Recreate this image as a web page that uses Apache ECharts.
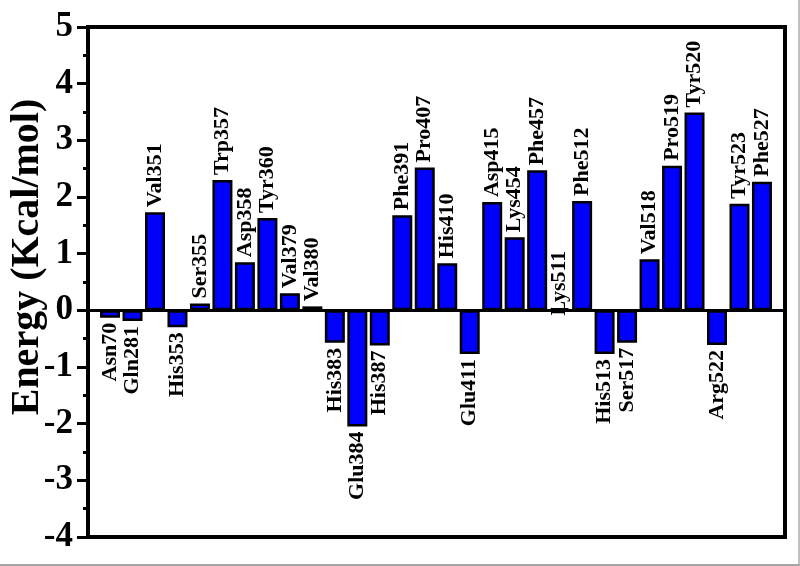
<!DOCTYPE html>
<html>
<head>
<meta charset="utf-8">
<script src="https://cdn.jsdelivr.net/npm/echarts@6/dist/echarts.min.js"></script>
<style>html,body{margin:0;padding:0;background:#fff;}#chart{width:800px;height:566px;}</style>
</head>
<body>
<div id="chart"></div>
<script>
const residues = ["Asn70","Gln281","Val351","His353","Ser355","Trp357","Asp358","Tyr360","Val379","Val380",
  "His383","Glu384","His387","Phe391","Pro407","His410","Glu411","Asp415","Lys454","Phe457",
  "Lys511","Phe512","His513","Ser517","Val518","Pro519","Tyr520","Arg522","Tyr523","Phe527"];
const energies = [-0.13,-0.19,1.73,-0.30,0.12,2.30,0.85,1.63,0.30,0.07,
  -0.57,-2.05,-0.62,1.68,2.52,0.83,-0.77,1.91,1.29,2.47,
  0.04,1.93,-0.77,-0.57,0.90,2.55,3.49,-0.61,1.88,2.27];
const yMin = -4, yMax = 5, yStep = 1;
const yTitle = "Energy (Kcal/mol)";

const serif = "'Liberation Serif','Times New Roman',serif";
const barData = energies.map(v => ({
  value: v,
  label: { align: v >= 0 ? 'left' : 'right' }
}));

const chart = echarts.init(document.getElementById('chart'));
chart.setOption({
  animation: false,
  backgroundColor: '#fff',
  grid: [
    { left: 88, right: 15, top: 27, bottom: 29, outerBoundsMode: 'none', containLabel: false,
      show: true, borderColor: '#000', borderWidth: 4, backgroundColor: 'transparent' },
    { left: 98.8, right: 26.8, top: 27, bottom: 29, outerBoundsMode: 'none', containLabel: false }
  ],
  xAxis: [
    { gridIndex: 0, type: 'value', min: 0, max: 1,
      axisLine: { show: true, onZero: true, lineStyle: { color: '#000', width: 3 } },
      axisTick: { show: false }, axisLabel: { show: false }, splitLine: { show: false } },
    { gridIndex: 1, type: 'category', data: residues, show: false }
  ],
  yAxis: [
    { gridIndex: 0, type: 'value', min: yMin, max: yMax, interval: yStep,
      name: yTitle, nameLocation: 'middle', nameGap: 40, nameMoveOverlap: false,
      nameTextStyle: { fontFamily: serif, fontWeight: 'bold', fontSize: 40, color: '#000', padding: [0, 0, 0, 50] },
      axisLine: { show: true, onZero: false, lineStyle: { color: '#000', width: 4 } },
      axisTick: { show: true, inside: false, length: 11, lineStyle: { color: '#000', width: 3 } },
      minorTick: { show: true, splitNumber: 2, length: 5, lineStyle: { color: '#000', width: 3 } },
      axisLabel: { margin: 15, fontFamily: serif, fontWeight: 'bold', fontSize: 35, color: '#000' },
      splitLine: { show: false } },
    { gridIndex: 1, type: 'value', min: yMin, max: yMax, interval: yStep, show: false, splitLine: { show: false } }
  ],
  series: [{
    type: 'bar',
    xAxisIndex: 1, yAxisIndex: 1,
    data: barData,
    barWidth: 20,
    itemStyle: { color: '#0000ff', borderColor: '#000', borderWidth: 2.5 },
    label: {
      show: true, position: 'outside', rotate: 90, verticalAlign: 'middle', distance: 5,
      fontFamily: serif, fontWeight: 'bold', fontSize: 22, color: '#000',
      formatter: p => residues[p.dataIndex]
    }
  }],
  graphic: [
    { type: 'line', shape: { x1: 0, y1: 565, x2: 800, y2: 565 }, style: { stroke: '#888', lineWidth: 1.5 }, silent: true },
    { type: 'line', shape: { x1: 799, y1: 0, x2: 799, y2: 566 }, style: { stroke: '#aaa', lineWidth: 1.5 }, silent: true }
  ]
});
</script>
</body>
</html>
